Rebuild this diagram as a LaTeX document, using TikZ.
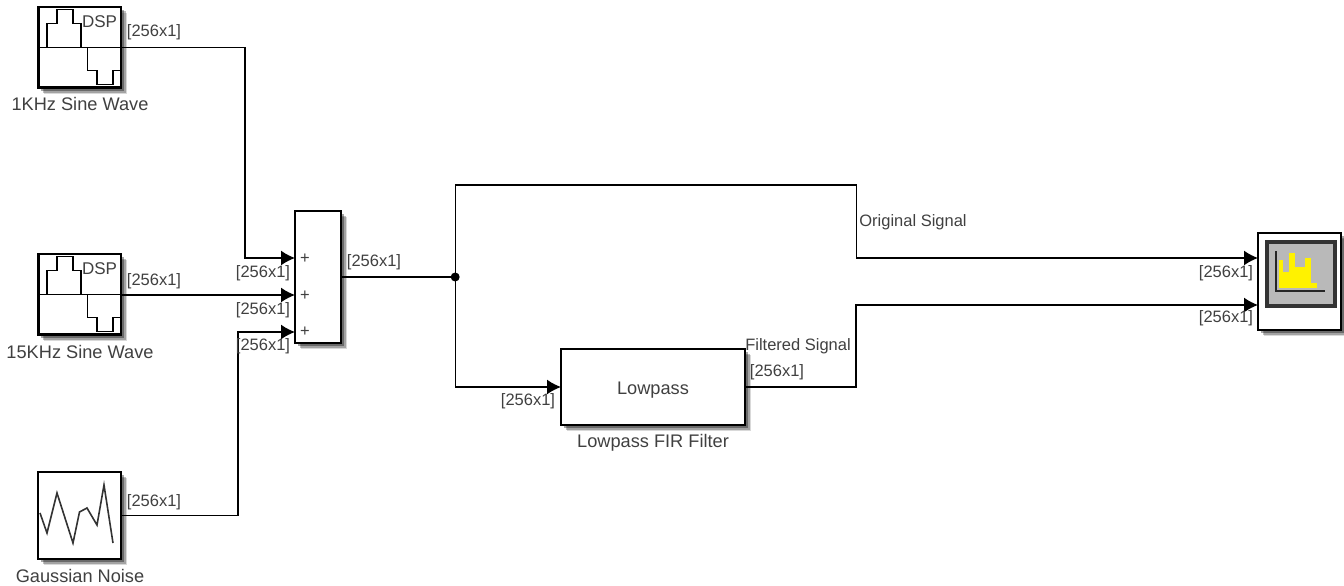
\documentclass[tikz,border=0pt]{standalone}
\usepackage{fontspec}
\setmainfont{Liberation Sans}
\usetikzlibrary{arrows.meta,calc,positioning,shadows}
\colorlet{labelgray}{black!75}
\definecolor{screengray}{HTML}{B9B9B9}
\tikzset{softshadow/.style={drop shadow={shadow xshift=6pt,shadow yshift=-6pt,opacity=.15,fill=black},
                            drop shadow={shadow xshift=4.5pt,shadow yshift=-4.5pt,opacity=.25,fill=black},
                            drop shadow={shadow xshift=3pt,shadow yshift=-3pt,opacity=.35,fill=black}},
         block/.style={draw,line width=1.4pt,fill=white,inner sep=0pt,outer sep=0pt,softshadow},
         sizelabel/.style={inner sep=0pt,text=labelgray,font=\fontsize{16.5}{18}\selectfont},
         blockname/.style={inner sep=0pt,text=labelgray,font=\fontsize{18.2}{20}\selectfont},
         wire/.style={line width=1.4pt},
         signal/.style={wire,-{Latex[length=14pt,width=15pt]}}}

\begin{document}
\begin{tikzpicture}[x=1pt,y=-1pt]

\useasboundingbox (0,0) rectangle (1344,586);

\node (sine1) [block,minimum width=83pt,minimum height=81pt] at (79.5,47.5) {};
\node (sine2) [block,minimum width=83pt,minimum height=81pt,below=166pt of sine1] {};
\node (noise) [block,minimum width=83pt,minimum height=87pt,below=137pt of sine2] {};
\node (sum) [block,minimum width=46pt,minimum height=132pt,below right=123pt and 174pt of sine1] {};
\node (filter) [block,minimum width=184pt,minimum height=76pt,below right=6pt and 220pt of sum] {};
\node (scope) [block,minimum width=83pt,minimum height=97pt,above right=19pt and 513pt of filter] {};
\node (junction) [circle,fill=black,inner sep=0pt,minimum size=9pt,right=109.5pt of sum] {};

\coordinate (sumin1) at ($(sum.west)+(0,-19)$);
\coordinate (sumin2) at ($(sum.west)+(0,18)$);
\coordinate (sumin3) at ($(sum.west)+(0,55)$);
\coordinate (scopein1) at ($(scope.west)+(0,-23.5)$);
\coordinate (scopein2) at ($(scope.west)+(0,23.5)$);

\draw [signal] (sine1.east) -- ++(124,0) |- (sumin1);
\draw [signal] (sine2.east |- sumin2) -- (sumin2);
\draw [signal] (noise.east) -- ++(117,0) |- (sumin3);
\draw [wire] (sum.east) -- (junction);
\draw [signal] (junction.center) -- ++(0,-92) -- ++(401,0) |- (scopein1);
\draw [signal] (junction.center) |- (filter.west);
\draw [signal] (filter.east) -- ++(111,0) |- (scopein2);

\foreach \block in {sine1,sine2} {
  \begin{scope}[shift={(\block.center)}]
    \draw [line width=1.6pt] (-41.5,0) -- (41.5,0);
    \draw [line width=1.6pt] (-32.5,0) -- (-32.5,-24) -- (-22.5,-24) -- (-22.5,-38) -- (-6.5,-38) -- (-6.5,-24) -- (1.5,-24) -- (1.5,0);
    \draw [line width=1.6pt] (8,0) -- (8,23) -- (17.5,23) -- (17.5,37) -- (33.5,37) -- (33.5,23) -- (41.5,23);
    \draw [line width=2.4pt] (-40.5,-40.5) -- (-40.5,40) -- (41.5,40);
    \node (\block dsp) [blockname,font=\fontsize{17}{20}\selectfont] at (20,-26) {DSP};
  \end{scope}
}

\draw [line width=2.4pt] (noise.north west) -- (noise.south west) -- (noise.south east);
\begin{scope}[shift={(noise.center)}]
  \draw [line width=1.6pt,black!80] (-39.5,-2.5) -- (-32.5,17.5) -- (-22.5,-22.5) -- (-6.5,27.5) -- (0,-3.5) -- (7.5,-7.5) -- (17.5,9.5) -- (24.5,-30.5) -- (33.5,27.5);
\end{scope}

\begin{scope}[shift={(scope.center)}]
  \draw [line width=3.5pt,black!80,fill=screengray] (-32.5,-39.5) rectangle (35.5,24.5);
  \foreach \xa/\xb/\ytop in {-20.2/-16.2/-21.5,-16.2/-10.2/-9.8,-10.2/-4.5/-28.2,-4.5/5.5/-14.8,5.5/11.2/-23.2,11.2/17.2/1.8} {
    \fill [yellow] (\xa,\ytop) rectangle (\xb,6.5);
  }
  \draw [line width=2.6pt,black!85] (-23.5,-30.5) -- (-23.5,9.5) -- (25.5,9.5);
\end{scope}

\node (sumplus1) [sizelabel] at (305,259) {+};
\node (sumplus2) [sizelabel] at (305,296) {+};
\node (sumplus3) [sizelabel] at (305,332) {+};
\node (filtertext) [blockname] at ($(filter.center)+(0,3)$) {Lowpass};

\node (sine1name) [blockname] at (80,104) {1KHz Sine Wave};
\node (sine2name) [blockname] at (80,352) {15KHz Sine Wave};
\node (noisename) [blockname] at (80,576) {Gaussian Noise};
\node (filtername) [blockname] at (653,443) {Lowpass FIR Filter};
\node (originalname) [sizelabel] at (913,222.5) {Original Signal};
\node (filteredname) [sizelabel] at (798,346.5) {Filtered Signal};

\node (sine1size) [sizelabel] at (154,32.5) {[256x1]};
\node (sine2size) [sizelabel] at (154,281.5) {[256x1]};
\node (noisesize) [sizelabel] at (154,502.5) {[256x1]};
\node (sumin1size) [sizelabel] at (263,273.5) {[256x1]};
\node (sumin2size) [sizelabel] at (263,310.5) {[256x1]};
\node (sumin3size) [sizelabel] at (263,346.5) {[256x1]};
\node (sumoutsize) [sizelabel] at (374,262.5) {[256x1]};
\node (filterinsize) [sizelabel] at (528,401.5) {[256x1]};
\node (filteroutsize) [sizelabel] at (777,372.5) {[256x1]};
\node (scopein1size) [sizelabel] at (1226,273.5) {[256x1]};
\node (scopein2size) [sizelabel] at (1226,318.5) {[256x1]};

\end{tikzpicture}
\end{document}
